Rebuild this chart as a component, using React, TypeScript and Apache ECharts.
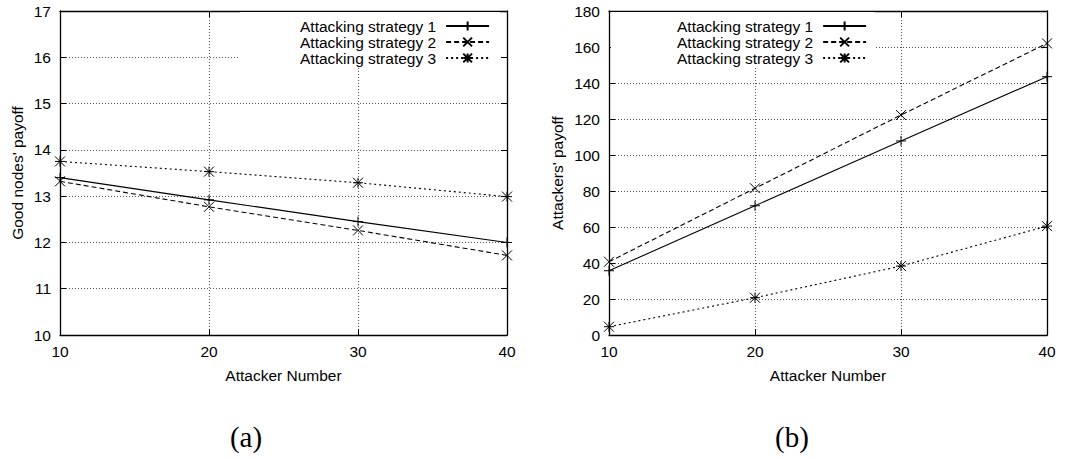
import React, { useEffect, useRef } from "react";
import * as echarts from "echarts";

// Attacker counts on the x axis of both panels
const attackerNumbers = [10, 20, 30, 40];

const seriesNames = ["Attacking strategy 1", "Attacking strategy 2", "Attacking strategy 3"];

// (a) Good nodes' payoff
const goodPayoff1 = [13.4, 12.92, 12.45, 12.0];
const goodPayoff2 = [13.32, 12.77, 12.26, 11.72];
const goodPayoff3 = [13.75, 13.53, 13.29, 12.99];

// (b) Attackers' payoff
const attackerPayoff1 = [35.7, 71.8, 107.8, 143.5];
const attackerPayoff2 = [40.7, 81.5, 122.2, 162.0];
const attackerPayoff3 = [4.6, 20.7, 38.3, 60.5];

const captions = ["(a)", "(b)"];

const FONT = "Liberation Sans, Arial, Helvetica, sans-serif";
const SERIF = "Liberation Serif, Times New Roman, serif";

// gnuplot-like point types: plus, cross, star
const SYM_PLUS = "path://M0 5L10 5M5 0L5 10";
const SYM_CROSS = "path://M0 0L10 10M10 0L0 10";
const SYM_STAR = "path://M0 5L10 5M5 0L5 10M0 0L10 10M10 0L0 10";

const symbols = [SYM_PLUS, SYM_CROSS, SYM_STAR];
const lineTypes: any[] = ["solid", [5, 3], [2, 3]];

const pairs = (ys: number[]) => attackerNumbers.map((x, i) => [x, ys[i]]);

function makeSeries(grid: number, values: number[][]) {
  return values.map((vals, i) => ({
    type: "line",
    name: seriesNames[i],
    xAxisIndex: grid * 2,
    yAxisIndex: grid * 2,
    data: pairs(vals),
    symbol: symbols[i],
    symbolSize: 10,
    symbolKeepAspect: true,
    showSymbol: true,
    lineStyle: { color: "#000", width: 1.1, type: lineTypes[i] },
    itemStyle: { color: "#000", borderColor: "#000", borderWidth: 1 },
    emphasis: { disabled: true },
    z: 3,
  }));
}

const gridStyle = { color: "#555", width: 1, type: [1, 2] };

function mainX(grid: number) {
  return {
    type: "value",
    gridIndex: grid,
    min: 10,
    max: 40,
    interval: 10,
    position: "bottom",
    name: "Attacker Number",
    nameLocation: "middle",
    nameGap: 32,
    nameTextStyle: { color: "#000", fontFamily: FONT, fontSize: 15.5 },
    axisLine: { show: true, onZero: false, lineStyle: { color: "#000", width: 1.3 } },
    axisTick: { show: true, inside: true, length: 6, lineStyle: { color: "#000" } },
    axisLabel: { color: "#000", fontFamily: FONT, fontSize: 15.5, margin: 8 },
    splitLine: { show: true, lineStyle: gridStyle },
  };
}

function mirrorX(grid: number) {
  return {
    type: "value",
    gridIndex: grid,
    min: 10,
    max: 40,
    interval: 10,
    position: "top",
    axisLine: { show: true, onZero: false, lineStyle: { color: "#000", width: 1.3 } },
    axisTick: { show: true, inside: true, length: 6, lineStyle: { color: "#000" } },
    axisLabel: { show: false },
    splitLine: { show: false },
  };
}

function mainY(grid: number, min: number, max: number, interval: number, name: string, gap: number) {
  return {
    type: "value",
    gridIndex: grid,
    min,
    max,
    interval,
    position: "left",
    name,
    nameLocation: "middle",
    nameGap: gap,
    nameTextStyle: { color: "#000", fontFamily: FONT, fontSize: 15.5 },
    axisLine: { show: true, onZero: false, lineStyle: { color: "#000", width: 1.3 } },
    axisTick: { show: true, inside: true, length: 6, lineStyle: { color: "#000" } },
    axisLabel: { color: "#000", fontFamily: FONT, fontSize: 15.5, margin: 9 },
    splitLine: { show: true, lineStyle: gridStyle },
  };
}

function mirrorY(grid: number, min: number, max: number, interval: number) {
  return {
    type: "value",
    gridIndex: grid,
    min,
    max,
    interval,
    position: "right",
    axisLine: { show: true, onZero: false, lineStyle: { color: "#000", width: 1.3 } },
    axisTick: { show: true, inside: true, length: 6, lineStyle: { color: "#000" } },
    axisLabel: { show: false },
    splitLine: { show: false },
  };
}

function makeLegend(left: number, padding: number[]) {
  return {
    orient: "vertical",
    left,
    top: 12,
    align: "right",
    padding,
    itemGap: 0,
    itemWidth: 43,
    itemHeight: 11,
    backgroundColor: "#fff",
    selectedMode: false,
    data: seriesNames,
    textStyle: {
      color: "#000",
      fontFamily: FONT,
      fontSize: 15.5,
      lineHeight: 16,
      padding: [0, 5, 0, 0],
    },
    z: 4,
  };
}

export default function App() {
  const ref = useRef<HTMLDivElement>(null);

  useEffect(() => {
    if (!ref.current) return;
    const chart = echarts.init(ref.current, null, { renderer: "svg" });
    chart.setOption({
      animation: false,
      backgroundColor: "#fff",
      grid: [
        { left: 60, top: 11, width: 447, height: 324 },
        { left: 609, top: 11, width: 438, height: 324 },
      ],
      xAxis: [mainX(0), mirrorX(0), mainX(1), mirrorX(1)],
      yAxis: [
        mainY(0, 10, 17, 1, "Good nodes' payoff", 35),
        mirrorY(0, 10, 17, 1),
        mainY(1, 0, 180, 20, "Attackers' payoff", 44),
        mirrorY(1, 0, 180, 20),
      ],
      legend: [makeLegend(240, [6, 10, 1, 60]), makeLegend(611, [6, 8, 1, 66])],
      series: [
        ...makeSeries(0, [goodPayoff1, goodPayoff2, goodPayoff3]),
        ...makeSeries(1, [attackerPayoff1, attackerPayoff2, attackerPayoff3]),
      ],
      graphic: [
        {
          type: "text",
          x: 246,
          y: 437,
          style: {
            text: captions[0],
            fill: "#000",
            font: `29px ${SERIF}`,
            align: "center",
            verticalAlign: "middle",
          },
        },
        {
          type: "text",
          x: 792,
          y: 437,
          style: {
            text: captions[1],
            fill: "#000",
            font: `29px ${SERIF}`,
            align: "center",
            verticalAlign: "middle",
          },
        },
      ],
    });
    return () => chart.dispose();
  }, []);

  return (
    <div
      ref={ref}
      style={{ position: "fixed", left: 0, top: 0, width: 1079, height: 459, background: "#fff" }}
    />
  );
}
